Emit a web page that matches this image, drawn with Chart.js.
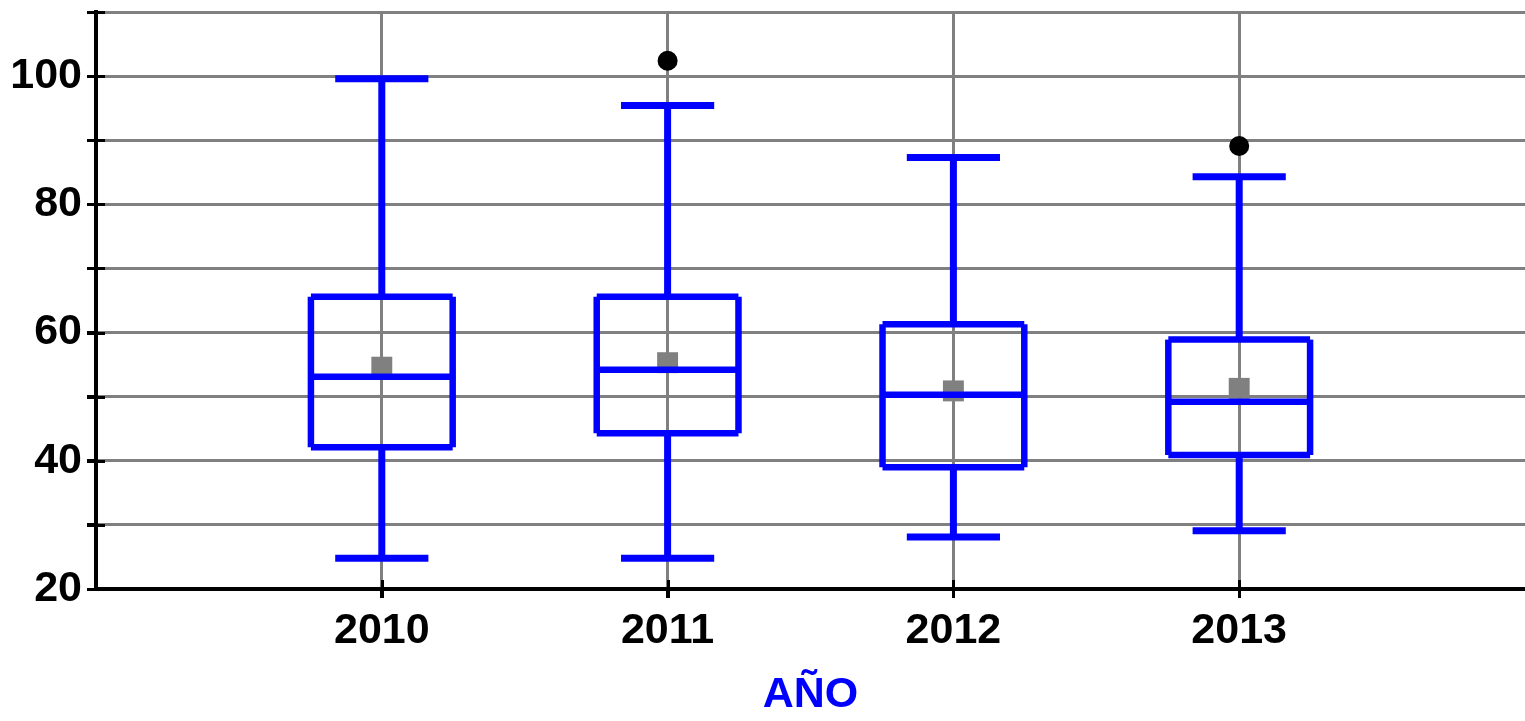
<!DOCTYPE html>
<html>
<head>
<meta charset="utf-8">
<script src="https://cdn.jsdelivr.net/npm/chart.js@4/dist/chart.umd.min.js"></script>
<style>
  html, body { margin: 0; padding: 0; background: #ffffff; }
  #wrap { width: 1525px; height: 721px; }
</style>
</head>
<body>
<div id="wrap"><canvas id="c" width="1525" height="721"></canvas></div>
<script>
// ---- data ----
const categories   = ['2010', '2011', '2012', '2013'];
const years        = [2010, 2011, 2012, 2013];
const whiskerLow   = [24.8, 24.8, 28.1, 29.1];
const q1           = [42.1, 44.3, 39.0, 40.9];
const median       = [53.1, 54.2, 50.3, 49.2];
const q3           = [65.6, 65.6, 61.3, 58.9];
const whiskerHigh  = [99.6, 95.4, 87.3, 84.3];
const mean         = [54.6, 55.3, 50.9, 51.3];
const outlierYears = [2011, 2013];
const outlierVals  = [102.4, 89.1];
const yLabelTicks  = [20, 40, 60, 80, 100];
const xTitle       = 'AÑO';

// ---- styles ----
const BLUE = '#0000ff';
const GRID = '#808080';
const BOX_HALF = 0.248;   // half box width in x units
const CAP_HALF = 0.163;   // half whisker-cap width in x units
const FONT = { family: '"Liberation Sans", Arial, sans-serif', size: 43, weight: 'bold' };

const boxPlugin = {
  id: 'boxes',
  afterDatasetsDraw(chart) {
    const { ctx, scales: { x, y } } = chart;
    const seg = (x1, y1, x2, y2) => { ctx.beginPath(); ctx.moveTo(x1, y1); ctx.lineTo(x2, y2); ctx.stroke(); };
    ctx.save();
    ctx.strokeStyle = BLUE;
    ctx.lineCap = 'butt';
    years.forEach((yr, i) => {
      const cx = x.getPixelForValue(yr);
      const hw = x.getPixelForValue(yr + BOX_HALF) - cx;
      const ch = x.getPixelForValue(yr + CAP_HALF) - cx;
      const pLo = y.getPixelForValue(whiskerLow[i]);
      const pQ1 = y.getPixelForValue(q1[i]);
      const pMed = y.getPixelForValue(median[i]);
      const pQ3 = y.getPixelForValue(q3[i]);
      const pHi = y.getPixelForValue(whiskerHigh[i]);
      ctx.lineWidth = 7;
      seg(cx, pQ3, cx, pHi);
      seg(cx, pQ1, cx, pLo);
      seg(cx - ch, pHi, cx + ch, pHi);
      seg(cx - ch, pLo, cx + ch, pLo);
      ctx.lineWidth = 6.5;
      seg(cx - hw, pQ3, cx + hw, pQ3);
      seg(cx - hw, pQ1, cx + hw, pQ1);
      seg(cx - hw, pQ3, cx - hw, pQ1);
      seg(cx + hw, pQ3, cx + hw, pQ1);
      seg(cx - hw, pMed, cx + hw, pMed);
    });
    ctx.restore();
  },
  afterDraw(chart) {
    const { ctx, chartArea, scales: { x, y } } = chart;
    ctx.save();
    ctx.strokeStyle = '#000';
    ctx.lineWidth = 3;
    y.ticks.forEach(t => {
      const py = Math.round(y.getPixelForValue(t.value)) + 0.5;
      ctx.beginPath(); ctx.moveTo(chartArea.left - 9, py); ctx.lineTo(chartArea.left + 9, py); ctx.stroke();
    });
    years.forEach(yr => {
      const px = Math.round(x.getPixelForValue(yr)) + 0.5;
      ctx.beginPath(); ctx.moveTo(px, chartArea.bottom - 9); ctx.lineTo(px, chartArea.bottom + 9); ctx.stroke();
    });
    ctx.restore();
  }
};

new Chart(document.getElementById('c'), {
  type: 'scatter',
  data: {
    datasets: [
      {
        label: 'Media',
        data: years.map((yr, i) => ({ x: yr, y: mean[i] })),
        pointStyle: 'rect',
        pointRadius: 14.8,
        pointHoverRadius: 14.8,
        backgroundColor: GRID,
        borderWidth: 0
      },
      {
        label: 'Atípicos',
        data: outlierYears.map((yr, i) => ({ x: yr, y: outlierVals[i] })),
        pointStyle: 'circle',
        pointRadius: 10,
        pointHoverRadius: 10,
        backgroundColor: '#000',
        borderWidth: 0
      }
    ]
  },
  options: {
    responsive: false,
    animation: false,
    events: [],
    layout: { autoPadding: false, padding: { top: 12, right: 0, bottom: 0, left: 0 } },
    plugins: { legend: { display: false }, tooltip: { enabled: false } },
    scales: {
      x: {
        type: 'linear',
        min: 2009,
        max: 2014,
        afterFit(s) { s.height = 132; s.paddingLeft = 0; s.paddingRight = 0; },
        ticks: {
          stepSize: 1,
          autoSkip: false,
          maxRotation: 0,
          padding: 7,
          color: '#000',
          font: FONT,
          callback: (v) => {
            const i = years.indexOf(v);
            return i >= 0 ? categories[i] : '';
          }
        },
        grid: {
          color: (c) => years.includes(c.tick && c.tick.value) ? GRID : 'rgba(0,0,0,0)',
          tickColor: (c) => years.includes(c.tick && c.tick.value) ? '#000' : 'rgba(0,0,0,0)',
          lineWidth: 3,
          tickWidth: 3,
          tickLength: 9
        },
        border: { color: '#000', width: 4 },
        title: {
          display: true,
          text: xTitle,
          color: BLUE,
          font: FONT,
          padding: { top: 0, bottom: 0 }
        }
      },
      y: {
        type: 'linear',
        min: 20,
        max: 110,
        afterFit(s) { s.width = 96; s.paddingTop = 0; s.paddingBottom = 0; },
        ticks: {
          stepSize: 10,
          autoSkip: false,
          padding: 5,
          color: '#000',
          font: FONT,
          callback: (v) => yLabelTicks.includes(v) ? String(v) : ''
        },
        grid: {
          color: GRID,
          tickColor: '#000',
          lineWidth: 3,
          tickWidth: 3,
          tickLength: 9
        },
        border: { color: '#000', width: 4 }
      }
    }
  },
  plugins: [boxPlugin]
});
</script>
</body>
</html>
